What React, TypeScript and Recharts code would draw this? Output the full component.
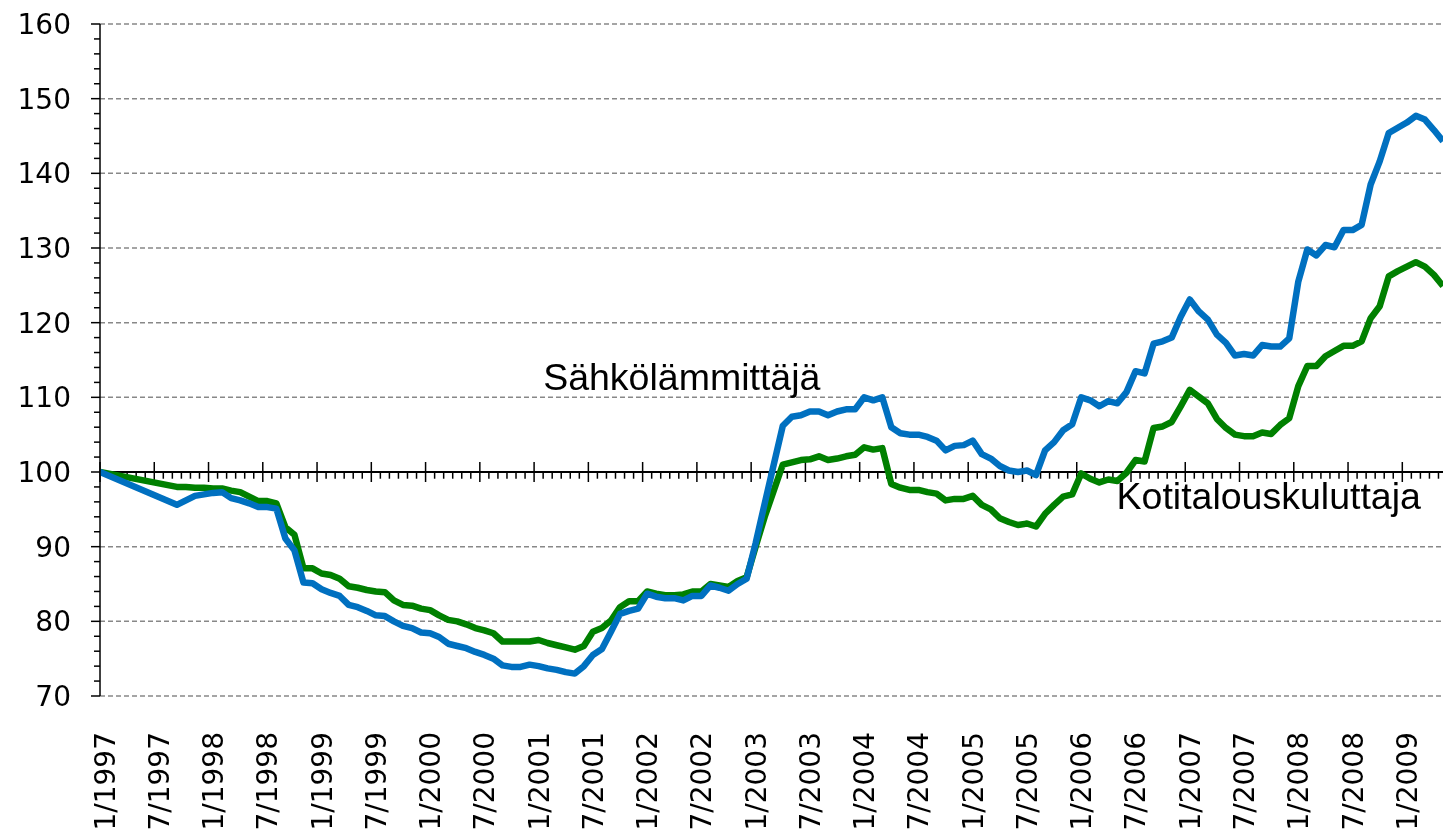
import { LineChart, Line, XAxis, YAxis, CartesianGrid, ReferenceLine, ReferenceDot } from "recharts";

// Sähkön hintaindeksi, 1/1997 = 100. x = kuukausia tammikuusta 1997 (kk:n puoliväli = +0.5)
const sahkolammittaja = [
  100,
  95.6, 96.2, 96.8, 97.0, 97.2, 97.3, 96.5, 96.2, 95.8, 95.3, 95.3, 95.1,
  91.1, 89.5, 85.2, 85.1, 84.3, 83.8, 83.4, 82.2, 81.9, 81.4,
  80.8, 80.7, 80.0, 79.4, 79.1, 78.5, 78.4, 77.9, 77.0, 76.7,
  76.4, 75.9, 75.5, 75.0, 74.1, 73.9, 73.9, 74.2, 74.0, 73.7,
  73.5, 73.2, 73.0, 74.0, 75.5, 76.3, 78.6, 81.0, 81.4, 81.7,
  83.7, 83.3, 83.1, 83.1, 82.8, 83.4, 83.4, 84.8, 84.5, 84.1,
  85.0, 85.7, 90.5, 95.8, 101.0, 106.2, 107.4, 107.6, 108.1, 108.1,
  107.6, 108.1, 108.4, 108.4, 110.0, 109.6, 110.0, 106.0, 105.2, 105.0,
  105.0, 104.7, 104.2, 102.9, 103.5, 103.6, 104.2, 102.4, 101.8, 100.8,
  100.2, 100.0, 100.2, 99.6, 102.9, 104.0, 105.6, 106.4, 110.0, 109.6,
  108.8, 109.5, 109.2, 110.7, 113.5, 113.2, 117.2, 117.5, 118.0, 120.8,
  123.1, 121.5, 120.4, 118.4, 117.3, 115.6, 115.8, 115.6, 117.0, 116.8,
  116.8, 117.9, 125.5, 129.8, 129.0, 130.4, 130.1, 132.4, 132.4, 133.1,
  138.5, 141.6, 145.4, 146.1, 146.8, 147.7, 147.2, 145.8, 144.3,
];

const kotitalouskuluttaja = [
  100,
  98.0, 98.0, 97.9, 97.9, 97.8, 97.8, 97.5, 97.3, 96.7, 96.1, 96.1, 95.8,
  92.6, 91.6, 87.1, 87.1, 86.4, 86.2, 85.7, 84.7, 84.5, 84.2,
  84.0, 83.9, 82.8, 82.2, 82.1, 81.7, 81.5, 80.8, 80.2, 80.0,
  79.6, 79.1, 78.8, 78.4, 77.3, 77.3, 77.3, 77.3, 77.5, 77.1,
  76.8, 76.5, 76.2, 76.7, 78.6, 79.1, 80.1, 81.9, 82.7, 82.7,
  84.0, 83.7, 83.5, 83.5, 83.6, 84.0, 84.0, 85.0, 84.8, 84.6,
  85.4, 85.9, 90.0, 94.0, 97.5, 101.0, 101.3, 101.6, 101.7, 102.1,
  101.6, 101.8, 102.1, 102.3, 103.3, 103.0, 103.2, 98.4, 97.9, 97.6,
  97.6, 97.3, 97.1, 96.2, 96.4, 96.4, 96.8, 95.6, 95.0, 93.8,
  93.3, 92.9, 93.1, 92.7, 94.4, 95.6, 96.7, 97.0, 99.8, 99.1,
  98.6, 99.0, 98.8, 99.9, 101.6, 101.4, 105.9, 106.1, 106.7, 108.8,
  111.0, 110.1, 109.2, 107.1, 105.9, 105.0, 104.8, 104.8, 105.3, 105.1,
  106.3, 107.2, 111.5, 114.2, 114.2, 115.5, 116.2, 116.9, 116.9, 117.5,
  120.6, 122.2, 126.2, 126.9, 127.5, 128.1, 127.5, 126.4, 124.9,
];

// ensimmäinen piste 1/1997, sitten kuukausittain 9/1997 -> 5/2009
const xMonths = [0, ...sahkolammittaja.slice(1).map((_, k) => 8.5 + k)];

const tickMonths = [0, 6, 12, 18, 24, 30, 36, 42, 48, 54, 60, 66, 72, 78, 84, 90, 96, 102, 108, 114, 120, 126, 132, 138, 144];
const tickLabels = [
  "1/1997", "7/1997", "1/1998", "7/1998", "1/1999", "7/1999", "1/2000", "7/2000", "1/2001", "7/2001",
  "1/2002", "7/2002", "1/2003", "7/2003", "1/2004", "7/2004", "1/2005", "7/2005", "1/2006", "7/2006",
  "1/2007", "7/2007", "1/2008", "7/2008", "1/2009",
];
const yTicks = Array.from({ length: 46 }, (_, k) => 70 + 2 * k);
const gridValues = [70, 80, 90, 100, 110, 120, 130, 140, 150, 160];
const monthTicks = Array.from({ length: 149 }, (_, i) => i);

const data = xMonths.map((m, k) => ({ m, sahko: sahkolammittaja[k], koti: kotitalouskuluttaja[k] }));

const AXIS_FONT = "'DejaVu Sans', Verdana, sans-serif";
const LABEL_FONT = "'Liberation Sans', Arial, sans-serif";

function YTick({ x, y, payload }: any) {
  const v = payload.value as number;
  const major = v % 10 === 0;
  return (
    <g>
      <line x1={x - (major ? 9 : 6)} x2={x} y1={y} y2={y} stroke="#000" strokeWidth={1.5} />
      {major && (
        <text x={x - 29} y={y} dy={10} textAnchor="end" fontSize={28} fontFamily={AXIS_FONT} fill="#000">
          {v}
        </text>
      )}
    </g>
  );
}

function XTick({ x, y, payload }: any) {
  const idx = tickMonths.indexOf(payload.value);
  return (
    <text
      transform={`translate(${x + 14.5},${y + 36}) rotate(-90)`}
      textAnchor="end"
      fontSize={28}
      fontFamily={AXIS_FONT}
      fill="#000"
    >
      {tickLabels[idx]}
    </text>
  );
}

function SeriesLabel({ viewBox, value }: any) {
  return (
    <text x={viewBox.x} y={viewBox.y} fontSize={37.5} fontFamily={LABEL_FONT} fill="#000">
      {value}
    </text>
  );
}

export default function App() {
  // fixed: ei vierityspalkkeja, kuvio saa ulottua ikkunan reunaan asti
  return (
    <div style={{ position: "fixed", left: 8, top: 8 }}>
      <LineChart width={1435} height={835} data={data} margin={{ top: 16, right: 0, left: 0, bottom: 0 }}>
        <CartesianGrid horizontal vertical={false} horizontalValues={gridValues} stroke="#888" strokeDasharray="5 3" strokeWidth={1.5} />
        <XAxis
          dataKey="m"
          type="number"
          domain={[0, 148.5]}
          ticks={tickMonths}
          interval={0}
          axisLine={false}
          tickLine={false}
          tickSize={0}
          tickMargin={0}
          height={147}
          tick={<XTick />}
          allowDataOverflow
        />
        <YAxis
          domain={[70, 160]}
          ticks={yTicks}
          interval={0}
          width={92}
          axisLine={{ stroke: "#000", strokeWidth: 1.5 }}
          tickLine={false}
          tickSize={0}
          tickMargin={0}
          tick={<YTick />}
          allowDataOverflow
        />
        <ReferenceLine y={100} stroke="#000" strokeWidth={2} />
        {monthTicks.map((i) => (
          <ReferenceLine
            key={i}
            segment={[
              { x: i, y: i % 6 === 0 ? 101.34 : 100 },
              { x: i, y: i % 6 === 0 ? 98.66 : 99.1 },
            ]}
            stroke="#000"
            strokeWidth={1.5}
          />
        ))}
        <Line dataKey="koti" type="linear" stroke="#008000" strokeWidth={6.5} dot={false} strokeLinejoin="round" isAnimationActive={false} />
        <Line dataKey="sahko" type="linear" stroke="#0070C0" strokeWidth={6.5} dot={false} strokeLinejoin="round" isAnimationActive={false} />
        <ReferenceDot x={49} y={111} r={0} fill="none" stroke="none" label={<SeriesLabel value="Sähkölämmittäjä" />} />
        <ReferenceDot x={112.4} y={95} r={0} fill="none" stroke="none" label={<SeriesLabel value="Kotitalouskuluttaja" />} />
      </LineChart>
    </div>
  );
}
